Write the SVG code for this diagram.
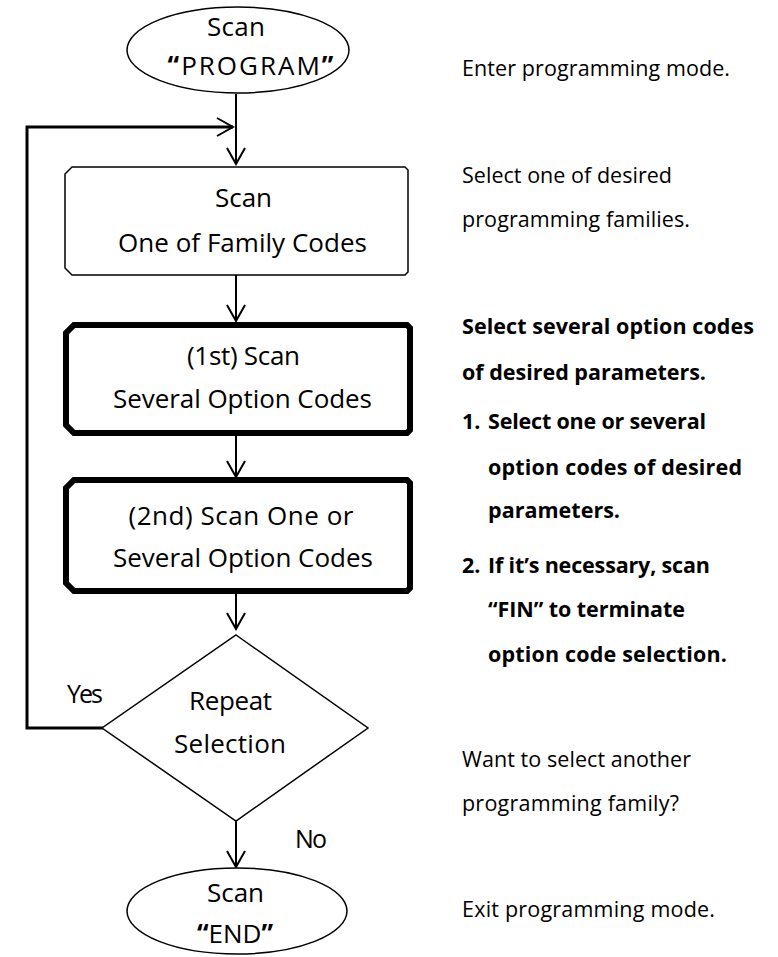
<svg xmlns="http://www.w3.org/2000/svg" width="778" height="957" viewBox="0 0 778 957">
<style>
  .node { font-family: "Open Sans", "Liberation Sans", sans-serif; font-size: 26px; fill: #000; text-anchor: middle; }
  .lbl { font-family: "Open Sans", "Liberation Sans", sans-serif; font-size: 25px; fill: #000; }
  .note { font-family: "Open Sans", "Liberation Sans", sans-serif; font-size: 21.5px; fill: #000; }
  .bold { font-weight: 700; }
  .thin { fill: #fff; stroke: #000; stroke-width: 1.5; }
  .thick { fill: #fff; stroke: #000; stroke-width: 6; stroke-linejoin: miter; }
  .conn { fill: none; stroke: #000; stroke-width: 2; }
  .loop { fill: none; stroke: #000; stroke-width: 3; }
  .q { font-weight: 700; }
</style>
<defs>
  <marker id="arr" viewBox="0 0 20 20" refX="18" refY="10" markerWidth="20" markerHeight="20" markerUnits="userSpaceOnUse" orient="auto">
    <path d="M2,1 L18,10 L2,19" fill="none" stroke="#000" stroke-width="2"/>
  </marker>
</defs>

<g id="connectors">
  <path class="conn" d="M236,94 V164" marker-end="url(#arr)"/>
  <path class="loop" d="M103,728 H27 V127 H233" marker-end="url(#arr)"/>
  <path class="conn" d="M236,275 V321" marker-end="url(#arr)"/>
  <path class="conn" d="M236,436 V477" marker-end="url(#arr)"/>
  <path class="conn" d="M236,594 V629" marker-end="url(#arr)"/>
  <path class="conn" d="M236,821 V867" marker-end="url(#arr)"/>
</g>

<g id="start">
  <ellipse class="thin" cx="238" cy="50" rx="111" ry="43"/>
  <text class="node" x="236" y="36" textLength="58">Scan</text>
  <text class="node" x="251.5" y="75" letter-spacing="2"><tspan class="q">“</tspan>PROGRAM<tspan class="q">”</tspan></text>
</g>

<g id="family">
  <path class="thin" d="M72,167 H405 L408,170 V272 L405,275 H72 L65,268 V174 Z"/>
  <text class="node" x="243.5" y="207" textLength="57">Scan</text>
  <text class="node" x="242.5" y="252" textLength="249">One of Family Codes</text>
</g>

<g id="first">
  <path class="thick" d="M74,325 H407 L410,328 V430 L407,433 H74 L66,425 V333 Z"/>
  <text class="node" x="243.5" y="365" textLength="113">(1st) Scan</text>
  <text class="node" x="242.5" y="408" textLength="259">Several Option Codes</text>
</g>

<g id="second">
  <path class="thick" d="M74,480 H407 L410,483 V588 L407,591 H74 L66,583 V488 Z"/>
  <text class="node" x="241" y="525" textLength="225">(2nd) Scan One or</text>
  <text class="node" x="243" y="567" textLength="260">Several Option Codes</text>
</g>

<g id="repeat">
  <path class="thin" d="M236,635 L368,728 L236,821 L102,728 Z"/>
  <text class="node" x="230.5" y="710" textLength="83">Repeat</text>
  <text class="node" x="230" y="753" textLength="112">Selection</text>
  <text class="lbl" x="67" y="703" textLength="36">Yes</text>
  <text class="lbl" x="295" y="848" textLength="32">No</text>
</g>

<g id="end">
  <ellipse class="thin" cx="237" cy="911" rx="110" ry="43"/>
  <text class="node" x="235.5" y="902" textLength="57">Scan</text>
  <text class="node" x="235" y="943"><tspan class="q">“</tspan>END<tspan class="q">”</tspan></text>
</g>

<g id="notes">
  <text class="note" x="462" y="76" textLength="268">Enter programming mode.</text>
  <text class="note" x="462" y="183" textLength="210">Select one of desired</text>
  <text class="note" x="462" y="227" textLength="228">programming families.</text>
  <text class="note bold" x="462" y="334" textLength="292">Select several option codes</text>
  <text class="note bold" x="462" y="380" textLength="244">of desired parameters.</text>
  <text class="note bold" x="462" y="429">1.</text>
  <text class="note bold" x="488" y="429" textLength="218">Select one or several</text>
  <text class="note bold" x="488" y="475" textLength="254">option codes of desired</text>
  <text class="note bold" x="488" y="518" textLength="132">parameters.</text>
  <text class="note bold" x="462" y="573">2.</text>
  <text class="note bold" x="488" y="573" textLength="222">If it’s necessary, scan</text>
  <text class="note bold" x="488" y="617" textLength="197">“FIN” to terminate</text>
  <text class="note bold" x="488" y="662" textLength="239">option code selection.</text>
  <text class="note" x="462" y="767" textLength="229">Want to select another</text>
  <text class="note" x="462" y="811" textLength="217">programming family?</text>
  <text class="note" x="462" y="917" textLength="253">Exit programming mode.</text>
</g>
</svg>
